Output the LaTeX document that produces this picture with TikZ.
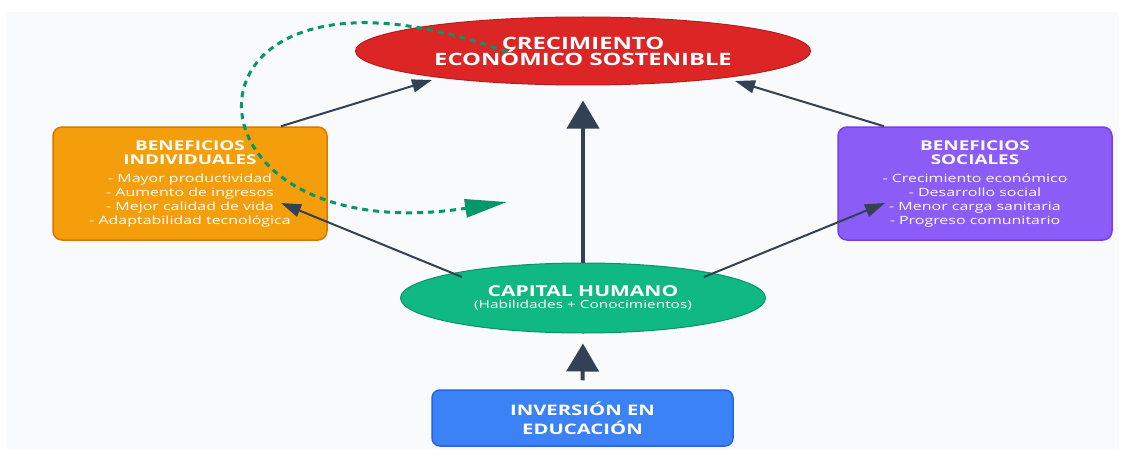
\documentclass[tikz,border=0pt]{standalone}
\usepackage{fontspec}
\setmainfont{Open Sans}
\usepackage{graphicx}
\usetikzlibrary{shapes.geometric,arrows.meta,calc}
\definecolor{panelc}{HTML}{F8FAFC}
\definecolor{arrowc}{HTML}{334155}
\definecolor{dashc}{HTML}{059669}
\definecolor{redf}{HTML}{DC2626}
\definecolor{redd}{HTML}{B91C1C}
\definecolor{orf}{HTML}{F59E0B}
\definecolor{ord}{HTML}{D97706}
\definecolor{puf}{HTML}{8B5CF6}
\definecolor{pud}{HTML}{7C3AED}
\definecolor{grf}{HTML}{10B981}
\definecolor{grd}{HTML}{059669}
\definecolor{blf}{HTML}{3B82F6}
\definecolor{bld}{HTML}{2563EB}
\newcommand\sx[1]{\scalebox{1.4}[1]{#1}}
\newcommand\ttl[1]{{\bfseries\fontsize{13.5}{14}\selectfont\sx{#1}}}
\begin{document}
\begin{tikzpicture}[x=1pt,y=-1pt,
  ell/.style={ellipse, inner sep=0pt, line width=1pt, text=white, align=center},
  infobox/.style={rectangle, rounded corners=9pt, inner sep=0pt, line width=1.5pt, text=white, align=center},
  arr/.style={draw=arrowc, line width=2pt, -{Triangle[length=20pt,width=13pt]}},
  bigarr/.style={draw=arrowc, line width=4pt, -{Triangle[length=28pt,width=32pt]}},
  dashloop/.style={draw=dashc, line width=3pt, dash pattern=on 6pt off 5pt, -{Triangle[length=42pt,width=18pt]}}
]
\useasboundingbox (0,0) rectangle (1125,452);
\fill[panelc] (6,12) rectangle (1119,449);

\node[ell, fill=redf, draw=redd, minimum width=455pt, minimum height=68pt,
  font=\bfseries\fontsize{17}{16}\selectfont] (eco) at (583,51)
  {\sx{CRECIMIENTO}\\\sx{ECONÓMICO SOSTENIBLE}};

\node[infobox, fill=orf, draw=ord, minimum width=274pt, minimum height=113pt,
  font=\fontsize{11.4}{14}\selectfont] (ind) at (190,183.5)
  {\ttl{BENEFICIOS}\\\ttl{INDIVIDUALES}\\[4pt]
   \sx{- Mayor productividad}\\\sx{- Aumento de ingresos}\\
   \sx{- Mejor calidad de vida}\\\sx{- Adaptabilidad tecnológica}};

\node[infobox, fill=puf, draw=pud, minimum width=274pt, minimum height=113pt,
  font=\fontsize{11.4}{14}\selectfont] (soc) at (975,183.5)
  {\ttl{BENEFICIOS}\\\ttl{SOCIALES}\\[4pt]
   \sx{- Crecimiento económico}\\\sx{- Desarrollo social}\\
   \sx{- Menor carga sanitaria}\\\sx{- Progreso comunitario}};

\node[ell, fill=grf, draw=grd, minimum width=365pt, minimum height=70pt] (cap) at (583,298)
  {{\bfseries\fontsize{15}{16}\selectfont\sx{CAPITAL HUMANO}}\\
   {\fontsize{11}{14}\selectfont\sx{(Habilidades + Conocimientos)}}};

\node[infobox, rounded corners=8pt, fill=blf, draw=bld, minimum width=301pt, minimum height=56pt,
  font=\bfseries\fontsize{14.5}{19}\selectfont] (inv) at (582.5,418)
  {\sx{INVERSIÓN EN}\\\sx{EDUCACIÓN}};

\coordinate (loopend) at (507,202);

\draw[arr] ([xshift=91pt]ind.north) -- ($(eco.center)+(-151,29)$);
\draw[arr] ([xshift=-91pt]soc.north) -- ($(eco.center)+(152,30)$);
\draw[arr] ($(cap.center)+(-121,-21)$) -- ($(ind.center)+(91,19.5)$);
\draw[arr] ($(cap.center)+(121,-21)$) -- ($(soc.center)+(-90,19.5)$);
\draw[bigarr, shorten >=15pt] (cap.north) -- (eco.south);
\draw[bigarr, shorten >=10pt, shorten <=9pt] (inv.north) -- (cap.south);
\draw[dashloop] ($(eco.center)+(-76,1)$) .. controls (160,-75) and (160,255) .. (loopend);
\end{tikzpicture}
\end{document}
